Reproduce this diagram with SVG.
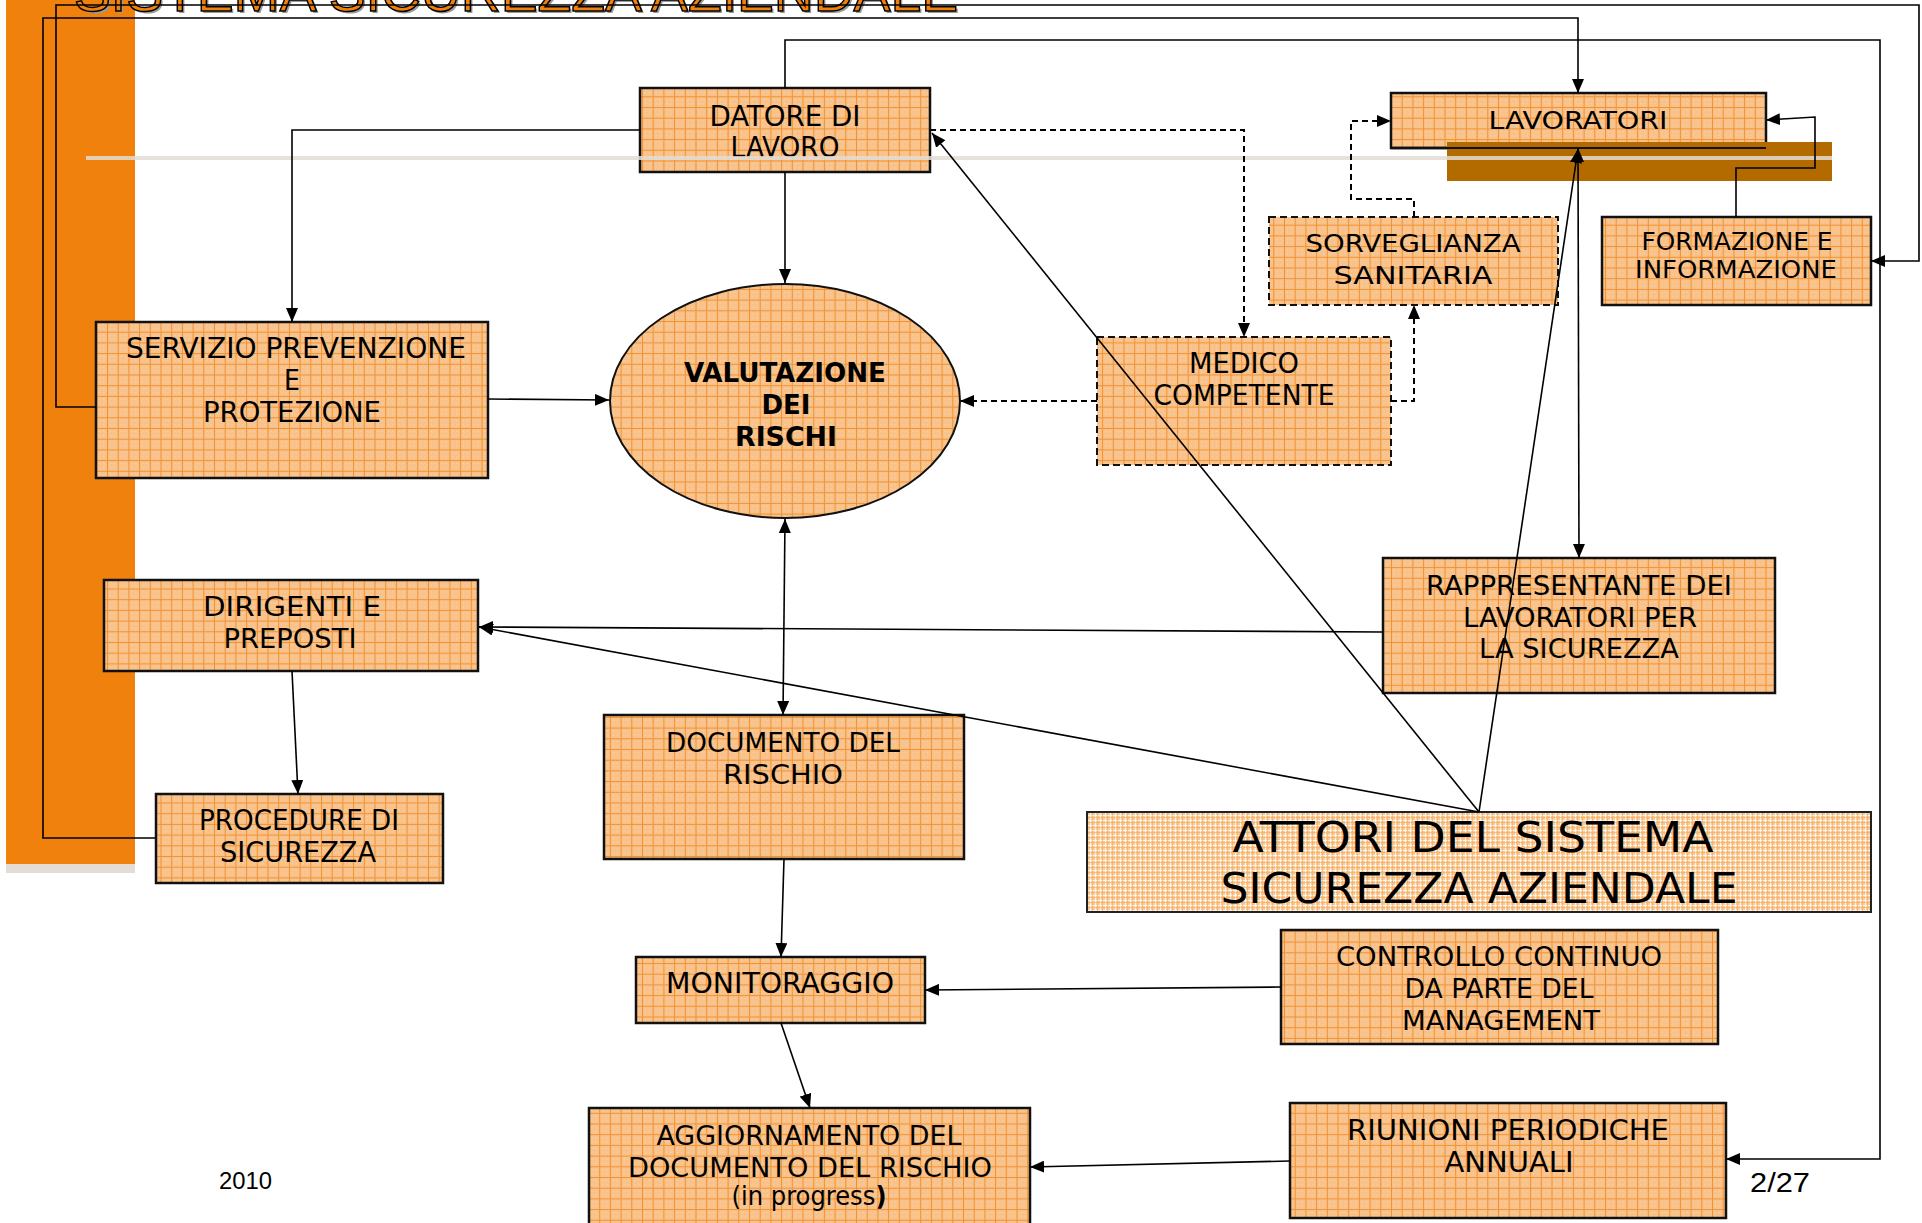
<svg xmlns="http://www.w3.org/2000/svg" width="1922" height="1223" viewBox="0 0 1922 1223">
<style>
.box{fill:url(#grid);stroke:#111;stroke-width:2.5}
.dbox{fill:url(#grid);stroke:#111;stroke-width:2;stroke-dasharray:7 4}
.t{font-family:"Liberation Sans Narrow","DejaVu Sans Condensed","Liberation Sans",sans-serif;fill:#000;text-anchor:middle}
.c{fill:none;stroke:#000;stroke-width:1.6}
.cd{fill:none;stroke:#000;stroke-width:2;stroke-dasharray:6 4}
</style>
<defs>
<pattern id="grid" patternUnits="userSpaceOnUse" width="10.7" height="10.7">
<rect width="10.7" height="10.7" fill="#F8C28A"/>
<path d="M0 0.5H10.7M0.5 0V10.7" stroke="#F08A22" stroke-width="1" opacity="0.85"/>
<path d="M3 3h1v1h-1zM7 7h1v1h-1zM7 3h1v1h-1zM3 7h1v1h-1z" fill="#FBD7B0"/>
</pattern>
<pattern id="fine" patternUnits="userSpaceOnUse" width="5" height="5">
<rect width="5" height="5" fill="#F9CB9A"/>
<path d="M0 0.5H5M0.5 0V5" stroke="#FFFFFF" stroke-width="1" opacity="0.8"/>
<path d="M0 2.5H5M2.5 0V5" stroke="#F5A656" stroke-width="1" opacity="0.6"/>
</pattern>
<marker id="ah" markerUnits="userSpaceOnUse" markerWidth="15" markerHeight="12" refX="14" refY="6" orient="auto-start-reverse">
<path d="M0,0 L14,6 L0,12 z" fill="#000"/>
</marker>
</defs>
<rect width="1922" height="1223" fill="#fff"/>
<!-- left decoration -->
<rect x="6" y="0" width="129" height="864" fill="#F0810C"/>
<rect x="6" y="864" width="129" height="9" fill="#E3DDD3"/>
<!-- title (cut off at top) -->
<text x="76" y="13" font-family="Liberation Sans, sans-serif" font-size="56" fill="#9a9a9a" textLength="884" lengthAdjust="spacingAndGlyphs">SISTEMA SICUREZZA AZIENDALE</text>
<text x="74" y="11" font-family="Liberation Sans, sans-serif" font-size="56" fill="#F0810C" stroke="#000" stroke-width="1.5" textLength="884" lengthAdjust="spacingAndGlyphs">SISTEMA SICUREZZA AZIENDALE</text>

<g id="datore">
<rect class="box" x="640" y="88" width="290" height="84"/>
<text class="t" x="785" y="126" font-size="28" textLength="151" lengthAdjust="spacingAndGlyphs">DATORE DI</text>
<text class="t" x="785" y="157" font-size="28" textLength="109" lengthAdjust="spacingAndGlyphs">LAVORO</text>
</g>
<g id="lavoratori">
<rect class="box" x="1391" y="93" width="375" height="55"/>
<text class="t" x="1578" y="129" font-size="25" textLength="179" lengthAdjust="spacingAndGlyphs">LAVORATORI</text>
</g>
<g id="sorveglianza">
<rect class="dbox" x="1269" y="217" width="289" height="88"/>
<text class="t" x="1413" y="252" font-size="25" textLength="215" lengthAdjust="spacingAndGlyphs">SORVEGLIANZA</text>
<text class="t" x="1413" y="284" font-size="25" textLength="159" lengthAdjust="spacingAndGlyphs">SANITARIA</text>
</g>
<g id="formazione">
<rect class="box" x="1602" y="217" width="269" height="88"/>
<text class="t" x="1737" y="250" font-size="25" textLength="191" lengthAdjust="spacingAndGlyphs">FORMAZIONE E</text>
<text class="t" x="1736" y="278" font-size="25" textLength="202" lengthAdjust="spacingAndGlyphs">INFORMAZIONE</text>
</g>
<g id="servizio">
<rect class="box" x="96" y="322" width="392" height="156"/>
<text class="t" x="296" y="358" font-size="28" textLength="340" lengthAdjust="spacingAndGlyphs">SERVIZIO PREVENZIONE</text>
<text class="t" x="292" y="390" font-size="28">E</text>
<text class="t" x="292" y="422" font-size="28" textLength="178" lengthAdjust="spacingAndGlyphs">PROTEZIONE</text>
</g>
<g id="valutazione">
<ellipse cx="785" cy="401" rx="175" ry="117" fill="url(#grid)" stroke="#111" stroke-width="2"/>
<text class="t" x="785" y="382" font-size="27" font-weight="bold" textLength="202" lengthAdjust="spacingAndGlyphs">VALUTAZIONE</text>
<text class="t" x="786" y="414" font-size="27" font-weight="bold" textLength="49" lengthAdjust="spacingAndGlyphs">DEI</text>
<text class="t" x="786" y="446" font-size="27" font-weight="bold" textLength="102" lengthAdjust="spacingAndGlyphs">RISCHI</text>
</g>
<g id="medico">
<rect class="dbox" x="1097" y="337" width="294" height="128"/>
<text class="t" x="1244" y="373" font-size="28" textLength="110" lengthAdjust="spacingAndGlyphs">MEDICO</text>
<text class="t" x="1244" y="405" font-size="28" textLength="181" lengthAdjust="spacingAndGlyphs">COMPETENTE</text>
</g>
<g id="dirigenti">
<rect class="box" x="104" y="580" width="374" height="91"/>
<text class="t" x="292" y="616" font-size="27" textLength="178" lengthAdjust="spacingAndGlyphs">DIRIGENTI E</text>
<text class="t" x="290" y="648" font-size="27" textLength="133" lengthAdjust="spacingAndGlyphs">PREPOSTI</text>
</g>
<g id="rappresentante">
<rect class="box" x="1383" y="558" width="392" height="135"/>
<text class="t" x="1579" y="595" font-size="27" textLength="306" lengthAdjust="spacingAndGlyphs">RAPPRESENTANTE DEI</text>
<text class="t" x="1580" y="627" font-size="27" textLength="234" lengthAdjust="spacingAndGlyphs">LAVORATORI PER</text>
<text class="t" x="1579" y="658" font-size="27" textLength="200" lengthAdjust="spacingAndGlyphs">LA SICUREZZA</text>
</g>
<g id="procedure">
<rect class="box" x="156" y="794" width="287" height="89"/>
<text class="t" x="299" y="830" font-size="28" textLength="200" lengthAdjust="spacingAndGlyphs">PROCEDURE DI</text>
<text class="t" x="298" y="862" font-size="28" textLength="156" lengthAdjust="spacingAndGlyphs">SICUREZZA</text>
</g>
<g id="documento">
<rect class="box" x="604" y="715" width="360" height="144"/>
<text class="t" x="783" y="752" font-size="27" textLength="234" lengthAdjust="spacingAndGlyphs">DOCUMENTO DEL</text>
<text class="t" x="783" y="784" font-size="27" textLength="120" lengthAdjust="spacingAndGlyphs">RISCHIO</text>
</g>
<g id="attori">
<rect x="1087" y="812" width="784" height="100" fill="url(#fine)" stroke="#222" stroke-width="2"/>
<text class="t" x="1473" y="852" font-size="42" textLength="481" lengthAdjust="spacingAndGlyphs">ATTORI DEL SISTEMA</text>
<text class="t" x="1479" y="903" font-size="42" textLength="517" lengthAdjust="spacingAndGlyphs">SICUREZZA AZIENDALE</text>
</g>
<g id="monitoraggio">
<rect class="box" x="636" y="957" width="289" height="66"/>
<text class="t" x="780" y="993" font-size="28" textLength="228" lengthAdjust="spacingAndGlyphs">MONITORAGGIO</text>
</g>
<g id="controllo">
<rect class="box" x="1281" y="930" width="437" height="114"/>
<text class="t" x="1499" y="966" font-size="27" textLength="326" lengthAdjust="spacingAndGlyphs">CONTROLLO CONTINUO</text>
<text class="t" x="1499" y="998" font-size="27" textLength="189" lengthAdjust="spacingAndGlyphs">DA PARTE DEL</text>
<text class="t" x="1501" y="1030" font-size="27" textLength="198" lengthAdjust="spacingAndGlyphs">MANAGEMENT</text>
</g>
<g id="riunioni">
<rect class="box" x="1290" y="1103" width="436" height="115"/>
<text class="t" x="1508" y="1140" font-size="28" textLength="322" lengthAdjust="spacingAndGlyphs">RIUNIONI PERIODICHE</text>
<text class="t" x="1509" y="1172" font-size="28" textLength="129" lengthAdjust="spacingAndGlyphs">ANNUALI</text>
</g>
<g id="aggiornamento">
<rect class="box" x="589" y="1108" width="441" height="130"/>
<text class="t" x="809" y="1145" font-size="26" textLength="305" lengthAdjust="spacingAndGlyphs">AGGIORNAMENTO DEL</text>
<text class="t" x="810" y="1177" font-size="26" textLength="364" lengthAdjust="spacingAndGlyphs">DOCUMENTO DEL RISCHIO</text>
<text class="t" x="809" y="1205" font-size="26" textLength="155" lengthAdjust="spacingAndGlyphs">(in progress<tspan font-weight="bold">)</tspan></text>
</g>

<!-- overlay decoration -->
<rect x="1447" y="142" width="385" height="39" fill="#B36B00"/>
<line x1="1391" y1="148" x2="1447" y2="148" stroke="#111" stroke-width="2.5"/>
<line x1="1447" y1="148" x2="1766" y2="148" stroke="#111" stroke-width="2"/>
<line x1="86" y1="158" x2="1832" y2="158" stroke="#E3DDD3" stroke-width="4" opacity="0.85"/>

<text x="1750" y="1192" font-family="Liberation Sans Narrow, Liberation Sans, sans-serif" font-size="28" textLength="60" lengthAdjust="spacingAndGlyphs">2/27</text>
<text x="219" y="1189" font-family="Liberation Sans Narrow, Liberation Sans, sans-serif" font-size="24" textLength="53" lengthAdjust="spacingAndGlyphs">2010</text>

<g id="connectors">
<polyline class="c" points="96,407 56,407 56,5 1919,5 1919,261 1871,261" marker-end="url(#ah)"/>
<polyline class="c" points="156,838 43,838 43,18 1578,18 1578,93" marker-end="url(#ah)"/>
<polyline class="c" points="785,88 785,40 1880,40 1880,1159 1726,1159" marker-end="url(#ah)"/>
<polyline class="c" points="640,130 292,130 292,322" marker-end="url(#ah)"/>
<line class="c" x1="785" y1="172" x2="785" y2="283" marker-end="url(#ah)"/>
<polyline class="cd" points="930,130 1244,130 1244,337" marker-end="url(#ah)"/>
<line class="cd" x1="1097" y1="401" x2="960" y2="401" marker-end="url(#ah)"/>
<polyline class="cd" points="1391,401 1414,401 1414,305" marker-end="url(#ah)"/>
<polyline class="cd" points="1414,217 1414,199 1351,199 1351,121 1391,121" marker-end="url(#ah)"/>
<polyline class="c" points="1736,217 1736,168 1815,168 1815,117 1766,120" marker-end="url(#ah)"/>
<line class="c" x1="1578" y1="148" x2="1579" y2="558" marker-start="url(#ah)" marker-end="url(#ah)"/>
<line class="c" x1="1479" y1="812" x2="932" y2="133" marker-end="url(#ah)"/>
<line class="c" x1="1479" y1="812" x2="1578" y2="149" marker-end="url(#ah)"/>
<line class="c" x1="1479" y1="812" x2="479" y2="627" stroke-width="2" marker-end="url(#ah)"/>
<line class="c" x1="1383" y1="632" x2="479" y2="627" stroke-width="2.2" marker-end="url(#ah)"/>
<line class="c" x1="488" y1="399" x2="609" y2="400" stroke-width="2" marker-end="url(#ah)"/>
<line class="c" x1="785" y1="519" x2="783" y2="715" marker-start="url(#ah)" marker-end="url(#ah)"/>
<line class="c" x1="292" y1="671" x2="298" y2="794" marker-end="url(#ah)"/>
<line class="c" x1="784" y1="859" x2="781" y2="957" marker-end="url(#ah)"/>
<line class="c" x1="781" y1="1023" x2="810" y2="1108" marker-end="url(#ah)"/>
<line class="c" x1="1281" y1="987" x2="925" y2="990" stroke-width="2" marker-end="url(#ah)"/>
<line class="c" x1="1290" y1="1161" x2="1030" y2="1167" stroke-width="2" marker-end="url(#ah)"/>
</g>
</svg>
